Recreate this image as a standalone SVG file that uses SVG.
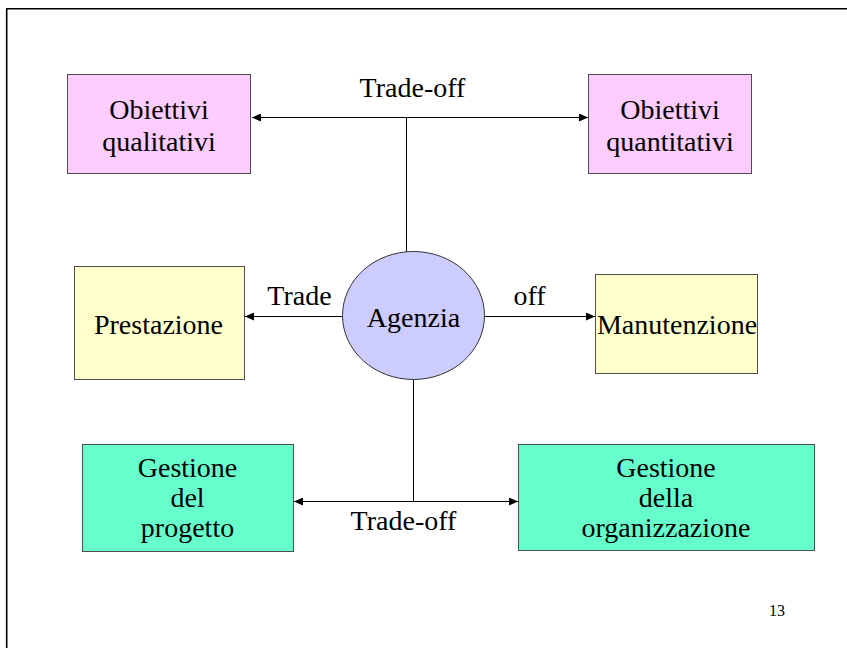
<svg xmlns="http://www.w3.org/2000/svg" width="847" height="648" viewBox="0 0 847 648">
  <style>
    .box { stroke: #4d4d4d; stroke-width: 1; }
    .pink { fill: #ffccff; }
    .yellow { fill: #ffffcc; }
    .green { fill: #66ffcc; }
    .oval { fill: #ccccff; stroke: #333333; stroke-width: 1; }
    text { font-family: 'Liberation Serif', 'Times New Roman', serif; }
    .lbl { font-size: 28px; fill: #000; text-anchor: middle; }
    .conn { stroke: #000; stroke-width: 1; fill: none; }
    .pg { font-size: 16px; fill: #000; }
  </style>
  <defs>
    <marker id="arr" markerUnits="userSpaceOnUse" markerWidth="10" markerHeight="8" refX="9" refY="4" orient="auto-start-reverse">
      <path d="M0,0 L9,4 L0,8 z" fill="#000"/>
    </marker>
  </defs>
  <rect width="847" height="648" fill="#ffffff"/>
  <path d="M6.7,648 V8.7 H847" fill="none" stroke="#000" stroke-width="1.6"/>

  <g id="connectors">
    <line class="conn" x1="252" y1="117.5" x2="588" y2="117.5" marker-start="url(#arr)" marker-end="url(#arr)"/>
    <line class="conn" x1="406.5" y1="117.5" x2="406.5" y2="252"/>
    <line class="conn" x1="343" y1="316.5" x2="245" y2="316.5" marker-end="url(#arr)"/>
    <line class="conn" x1="484" y1="316.5" x2="595" y2="316.5" marker-end="url(#arr)"/>
    <line class="conn" x1="294" y1="501.5" x2="518" y2="501.5" marker-start="url(#arr)" marker-end="url(#arr)"/>
    <line class="conn" x1="413.5" y1="379" x2="413.5" y2="501.5"/>
    <text class="lbl" x="412.5" y="97">Trade-off</text>
    <text class="lbl" x="299.5" y="305">Trade</text>
    <text class="lbl" x="529.5" y="305">off</text>
    <text class="lbl" x="403.5" y="530">Trade-off</text>
  </g>

  <g id="obiettivi-qualitativi">
    <rect class="box pink" x="67.5" y="74.5" width="183" height="99"/>
    <text class="lbl" x="159" y="119">Obiettivi</text>
    <text class="lbl" x="159" y="151">qualitativi</text>
  </g>
  <g id="obiettivi-quantitativi">
    <rect class="box pink" x="588.5" y="74.5" width="163" height="99"/>
    <text class="lbl" x="670" y="119">Obiettivi</text>
    <text class="lbl" x="670" y="151">quantitativi</text>
  </g>
  <g id="agenzia">
    <ellipse class="oval" cx="413.5" cy="315.5" rx="71" ry="64"/>
    <text class="lbl" x="413.5" y="327">Agenzia</text>
  </g>
  <g id="prestazione">
    <rect class="box yellow" x="74.5" y="266.5" width="170" height="113"/>
    <text class="lbl" x="158.5" y="334">Prestazione</text>
  </g>
  <g id="manutenzione">
    <rect class="box yellow" x="595.5" y="274.5" width="162" height="99"/>
    <text class="lbl" x="677" y="334">Manutenzione</text>
  </g>
  <g id="gestione-progetto">
    <rect class="box green" x="82.5" y="444.5" width="211" height="107"/>
    <text class="lbl" x="187.5" y="477">Gestione</text>
    <text class="lbl" x="187.5" y="507">del</text>
    <text class="lbl" x="187.5" y="537">progetto</text>
  </g>
  <g id="gestione-organizzazione">
    <rect class="box green" x="518.5" y="444.5" width="296" height="106"/>
    <text class="lbl" x="666" y="477">Gestione</text>
    <text class="lbl" x="666" y="507">della</text>
    <text class="lbl" x="666" y="537">organizzazione</text>
  </g>
  <text class="pg" x="769" y="616">13</text>
</svg>
